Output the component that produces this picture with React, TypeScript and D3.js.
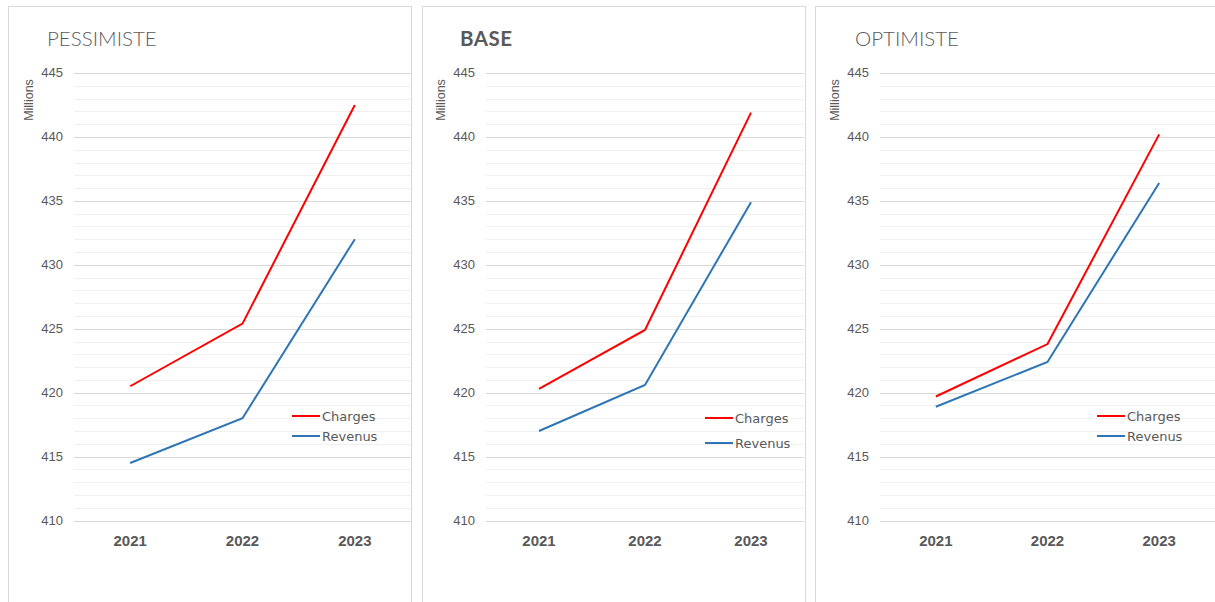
import React from 'react';
import * as d3 from 'd3';

const years = ['2021', '2022', '2023'];
const yTicks = [410, 415, 420, 425, 430, 435, 440, 445];
const seriesNames = ['Charges', 'Revenus'];
const seriesColors = ['#ff0000', '#2e75b6'];

const pessimisteCharges = [420.5, 425.4, 442.5];
const pessimisteRevenus = [414.5, 418.0, 432.0];
const baseCharges = [420.3, 424.9, 441.9];
const baseRevenus = [417.0, 420.6, 434.9];
const optimisteCharges = [419.7, 423.8, 440.2];
const optimisteRevenus = [418.9, 422.4, 436.4];

// layout of the three panels (pixels)
const panels = [
  { title: 'PESSIMISTE', bold: false, boxL: 8, boxR: 411, plotL: 74, plotR: 411, titleX: 47, legX: 292, legY: 416, legGap: 20, series: [pessimisteCharges, pessimisteRevenus] },
  { title: 'BASE', bold: true, boxL: 422, boxR: 805, plotL: 486, plotR: 804, titleX: 460, legX: 705, legY: 418, legGap: 25, series: [baseCharges, baseRevenus] },
  { title: 'OPTIMISTE', bold: false, boxL: 815, boxR: 1230, plotL: 880, plotR: 1215, titleX: 855, legX: 1097, legY: 416, legGap: 20, series: [optimisteCharges, optimisteRevenus] },
];

const W = 1215;
const H = 602;
const grey = '#595959';
const gothic = '"Century Gothic", "DejaVu Sans", sans-serif';
const titleFont = '"Century Gothic", Lato, sans-serif';
const arial = 'Arial, "Liberation Sans", sans-serif';

const y = d3.scaleLinear().domain([410, 445]).range([520.5, 73]);
const minorTicks = d3.range(410, 446, 1);

function Panel({ p }) {
  const x = d3.scaleBand().domain(years).range([p.plotL, p.plotR]);
  const cx = (d: string) => x(d) + x.bandwidth() / 2;
  const line = d3.line<number>().x((_, i) => cx(years[i])).y(v => y(v));

  return (
    <g>
      <rect x={p.boxL + 0.5} y={6.5} width={p.boxR - p.boxL} height={H} fill="#fff" stroke="#d9d9d9" />
      <text x={p.titleX} y={46} fontFamily={titleFont} fontSize={20.5} fontWeight={p.bold ? 700 : 300}
        fill={grey} letterSpacing={p.bold ? 0.5 : 0}>{p.title}</text>
      {minorTicks.filter(t => t % 5 !== 0).map(t => (
        <line key={'m' + t} x1={p.plotL} x2={p.plotR} y1={Math.round(y(t)) + 0.5} y2={Math.round(y(t)) + 0.5} stroke="#f0f0f0" />
      ))}
      {yTicks.map(t => (
        <line key={'M' + t} x1={p.plotL} x2={p.plotR} y1={Math.round(y(t)) + 0.5} y2={Math.round(y(t)) + 0.5} stroke="#d9d9d9" />
      ))}
      {yTicks.map(t => (
        <text key={'t' + t} x={p.plotL - 11} y={y(t) + 4} textAnchor="end" fontFamily={arial} fontSize={13} fill={grey}>{t}</text>
      ))}
      <text transform={`translate(${p.plotL - 41},${100}) rotate(-90)`} textAnchor="middle"
        fontFamily={arial} fontSize={12.5} fill={grey}>Millions</text>
      {years.map(d => (
        <text key={d} x={cx(d)} y={546} textAnchor="middle" fontFamily={arial} fontSize={15}
          fontWeight={700} fill={grey}>{d}</text>
      ))}
      {p.series.map((s, i) => (
        <path key={i} d={line(s)} fill="none" stroke={seriesColors[i]} strokeWidth={2} />
      ))}
      {seriesNames.map((n, i) => (
        <g key={n}>
          <line x1={p.legX} x2={p.legX + 28} y1={p.legY + i * p.legGap} y2={p.legY + i * p.legGap}
            stroke={seriesColors[i]} strokeWidth={2} />
          <text x={p.legX + 30} y={p.legY + i * p.legGap + 4.5} fontFamily={gothic} fontSize={13} fill={grey}>{n}</text>
        </g>
      ))}
    </g>
  );
}

export default function App() {
  return (
    <div style={{ position: 'absolute', left: 0, top: 0 }}>
      <svg width={W} height={H} style={{ display: 'block', background: '#fff' }}>
        {panels.map(p => <Panel key={p.title} p={p} />)}
      </svg>
    </div>
  );
}
